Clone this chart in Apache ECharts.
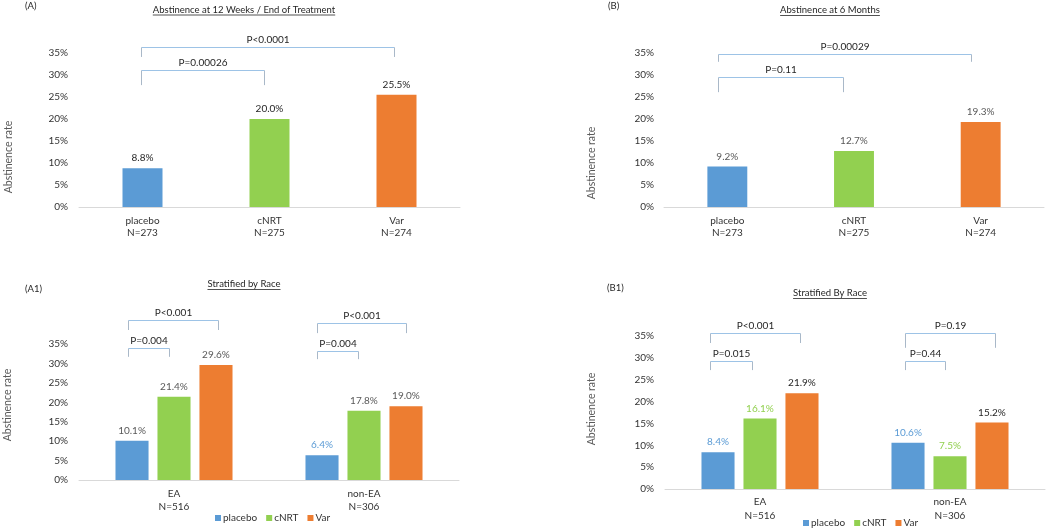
<!DOCTYPE html>
<html>
<head>
<meta charset="utf-8">
<script src="https://cdn.jsdelivr.net/npm/echarts@6/dist/echarts.min.js"></script>
<style>
  html, body { margin: 0; background: #fff; }
  #main { width: 1050px; height: 529px; }
</style>
</head>
<body>
<div id="main"></div>
<script>
// treatment arms
var treatments = ["placebo", "cNRT", "Var"];
var treatN = [273, 275, 274];
// abstinence rate (%) per arm
var week12 = [8.8, 20.0, 25.5];
var month6 = [9.2, 12.7, 19.3];
// stratified by race
var races = ["EA", "non-EA"];
var raceN = [516, 306];
var week12Placebo = [10.1, 6.4];
var week12CNRT = [21.4, 17.8];
var week12Var = [29.6, 19.0];
var month6Placebo = [8.4, 10.6];
var month6CNRT = [16.1, 7.5];
var month6Var = [21.9, 15.2];

// p-value brackets: cat = category, from/to = bar slot (1 = middle), top/end in %
var bracketsA = [
  { cat: 1, from: -0.01, to: 1.98, top: 36.4, end: 34.1, text: "P<0.0001" },
  { cat: 1, from: -0.01, to: 0.96, top: 31.1, end: 27.7, text: "P=0.00026" }
];
var bracketsB = [
  { cat: 1, from: -0.07, to: 1.92, top: 34.8, end: 33.0, text: "P=0.00029" },
  { cat: 1, from: -0.07, to: 0.91, top: 29.5, end: 26.1, text: "P=0.11" }
];
var bracketsA1 = [
  { cat: 0, from: -0.1, to: 2.04, top: 41.2, end: 38.6, text: "P<0.001" },
  { cat: 0, from: -0.1, to: 0.87, top: 34.0, end: 31.7, text: "P=0.004" },
  { cat: 1, from: -0.13, to: 1.99, top: 40.4, end: 37.8, text: "P<0.001" },
  { cat: 1, from: -0.13, to: 0.85, top: 33.2, end: 31.1, text: "P=0.004" }
];
var bracketsB1 = [
  { cat: 0, from: -0.2, to: 1.96, top: 35.7, end: 33.4, text: "P<0.001" },
  { cat: 0, from: -0.2, to: 0.8, top: 29.3, end: 27.2, text: "P=0.015" },
  { cat: 1, from: -0.06, to: 2.08, top: 35.7, end: 32.3, text: "P=0.19" },
  { cat: 1, from: -0.06, to: 0.89, top: 29.3, end: 27.2, text: "P=0.44" }
];

var colors = ["#5b9bd5", "#92d050", "#ed7d31"];
var dark = "#262626";
var grey = "#595959";
var font = "Lato";

var myChart = echarts.init(document.getElementById("main"));

function fmt(p) {
  return Number(p.value).toFixed(1) + "%";
}

function xAxisOf(idx, labels, margin, lh) {
  return {
    type: "category",
    gridIndex: idx,
    data: labels,
    axisTick: { show: false },
    axisLine: { lineStyle: { color: "#d9d9d9", width: 1 } },
    axisLabel: { color: "#333", fontSize: 10, lineHeight: lh, margin: margin, interval: 0 }
  };
}

function yAxisOf(idx, margin) {
  return {
    type: "value",
    gridIndex: idx,
    min: 0,
    max: 35,
    interval: 5,
    splitLine: { show: false },
    axisLine: { show: false },
    axisTick: { show: false },
    axisLabel: { formatter: "{value}%", color: "#333", fontSize: 10, margin: margin }
  };
}

function bracketSeries(list, idx, step) {
  return {
    type: "custom",
    xAxisIndex: idx,
    yAxisIndex: idx,
    silent: true,
    clip: false,
    z: 5,
    data: list.map(function (b) { return [b.cat, b.top]; }),
    renderItem: function (params, api) {
      var b = list[params.dataIndex];
      var band = api.size([1, 0])[0];
      var c = api.coord([b.cat, b.top]);
      var x1 = Math.round(c[0] + (b.from - 1) * band * step) + 0.5;
      var x2 = Math.round(c[0] + (b.to - 1) * band * step) + 0.5;
      var yTop = Math.round(c[1]) + 0.5;
      var yEnd = api.coord([b.cat, b.end])[1];
      return {
        type: "group",
        children: [
          { type: "line", shape: { x1: x1, y1: yTop, x2: x2, y2: yTop }, style: { stroke: "#9dc3e6", lineWidth: 1 } },
          { type: "line", shape: { x1: x1, y1: yTop, x2: x1, y2: yEnd }, style: { stroke: "#a9b8c8", lineWidth: 1 } },
          { type: "line", shape: { x1: x2, y1: yTop, x2: x2, y2: yEnd }, style: { stroke: "#a9b8c8", lineWidth: 1 } },
          {
            type: "text",
            style: {
              text: b.text, x: (x1 + x2) / 2, y: yTop - 8,
              align: "center", verticalAlign: "middle",
              fill: dark, font: "10px " + font
            }
          }
        ]
      };
    }
  };
}

function singleBars(idx, values, labelColor) {
  return {
    name: "panel" + idx,
    type: "bar",
    xAxisIndex: idx,
    yAxisIndex: idx,
    barWidth: "31.5%",
    data: values.map(function (v, i) {
      return { value: v, itemStyle: { color: colors[i] } };
    }),
    label: { show: true, position: "top", distance: 5, formatter: fmt, color: labelColor, fontSize: 10 }
  };
}

function groupBar(idx, k, values, labelColors) {
  return {
    name: treatments[k],
    type: "bar",
    xAxisIndex: idx,
    yAxisIndex: idx,
    barWidth: "17.4%",
    barGap: "27%",
    itemStyle: { color: colors[k] },
    data: values.map(function (v, i) {
      return { value: v, label: { color: labelColors[i] } };
    }),
    label: { show: true, position: "top", distance: 5, formatter: fmt, fontSize: 10 }
  };
}

var armLabels = treatments.map(function (t, i) { return t + "\nN=" + treatN[i]; });
var raceLabels = races.map(function (r, i) { return r + "\nN=" + raceN[i]; });

// measure title widths for the underline
var ctx = document.createElement("canvas").getContext("2d");
function titleGraphic(text, cx, cy) {
  ctx.font = "9.5px " + font;
  var w = ctx.measureText(text).width;
  return [
    { type: "text", x: cx, y: cy, style: { text: text, font: "9.5px " + font, fill: dark, align: "center", verticalAlign: "middle" } },
    { type: "line", shape: { x1: cx - w / 2, y1: cy + 5.5, x2: cx + w / 2, y2: cy + 5.5 }, style: { stroke: dark, lineWidth: 0.8 } }
  ];
}
function tagGraphic(text, x, y) {
  return { type: "text", x: x, y: y, style: { text: text, font: "9.5px " + font, fill: dark, verticalAlign: "middle" } };
}
function yTitleGraphic(x, y) {
  return {
    type: "text", x: x, y: y, rotation: Math.PI / 2,
    style: { text: "Abstinence rate", font: "10.5px " + font, fill: grey, align: "center", verticalAlign: "middle" }
  };
}

var legendBase = {
  data: treatments,
  orient: "horizontal",
  icon: "rect",
  itemWidth: 6,
  itemHeight: 6,
  itemGap: 9,
  padding: 0,
  textStyle: { color: "#333", fontSize: 10, padding: [0, 0, 0, -3] }
};

var option = {
  animation: false,
  textStyle: { fontFamily: font },
  legend: [
    Object.assign({}, legendBase, { left: 215, top: 513 }),
    Object.assign({}, legendBase, { left: 803, top: 518 })
  ],
  grid: [
    { left: 79, width: 381, top: 53, height: 154 },
    { left: 664, width: 380, top: 53, height: 154 },
    { left: 79, width: 380, top: 344, height: 136 },
    { left: 665, width: 380, top: 336, height: 153 }
  ],
  xAxis: [
    xAxisOf(0, armLabels, 8, 12),
    xAxisOf(1, armLabels, 8, 12),
    xAxisOf(2, raceLabels, 7, 13),
    xAxisOf(3, raceLabels, 6, 14)
  ],
  yAxis: [yAxisOf(0, 11), yAxisOf(1, 10), yAxisOf(2, 11), yAxisOf(3, 11)],
  graphic: [].concat(
    tagGraphic("(A)", 25, 6),
    tagGraphic("(B)", 608, 6),
    tagGraphic("(A1)", 25, 289),
    tagGraphic("(B1)", 607, 288),
    titleGraphic("Abstinence at 12 Weeks / End of Treatment", 244, 9.5),
    titleGraphic("Abstinence at 6 Months", 830, 10),
    titleGraphic("Stratified by Race", 244, 284),
    titleGraphic("Stratified By Race", 830, 293),
    yTitleGraphic(9, 157),
    yTitleGraphic(592, 163),
    yTitleGraphic(8, 405),
    yTitleGraphic(592, 409)
  ),
  series: [
    singleBars(0, week12, dark),
    singleBars(1, month6, grey),
    groupBar(2, 0, week12Placebo, [grey, colors[0]]),
    groupBar(2, 1, week12CNRT, [grey, grey]),
    groupBar(2, 2, week12Var, [grey, grey]),
    groupBar(3, 0, month6Placebo, [colors[0], colors[0]]),
    groupBar(3, 1, month6CNRT, [colors[1], colors[1]]),
    groupBar(3, 2, month6Var, [dark, dark]),
    bracketSeries(bracketsA, 0, 1),
    bracketSeries(bracketsB, 1, 1),
    bracketSeries(bracketsA1, 2, 0.221),
    bracketSeries(bracketsB1, 3, 0.221)
  ]
};

myChart.setOption(option);
</script>
</body>
</html>
